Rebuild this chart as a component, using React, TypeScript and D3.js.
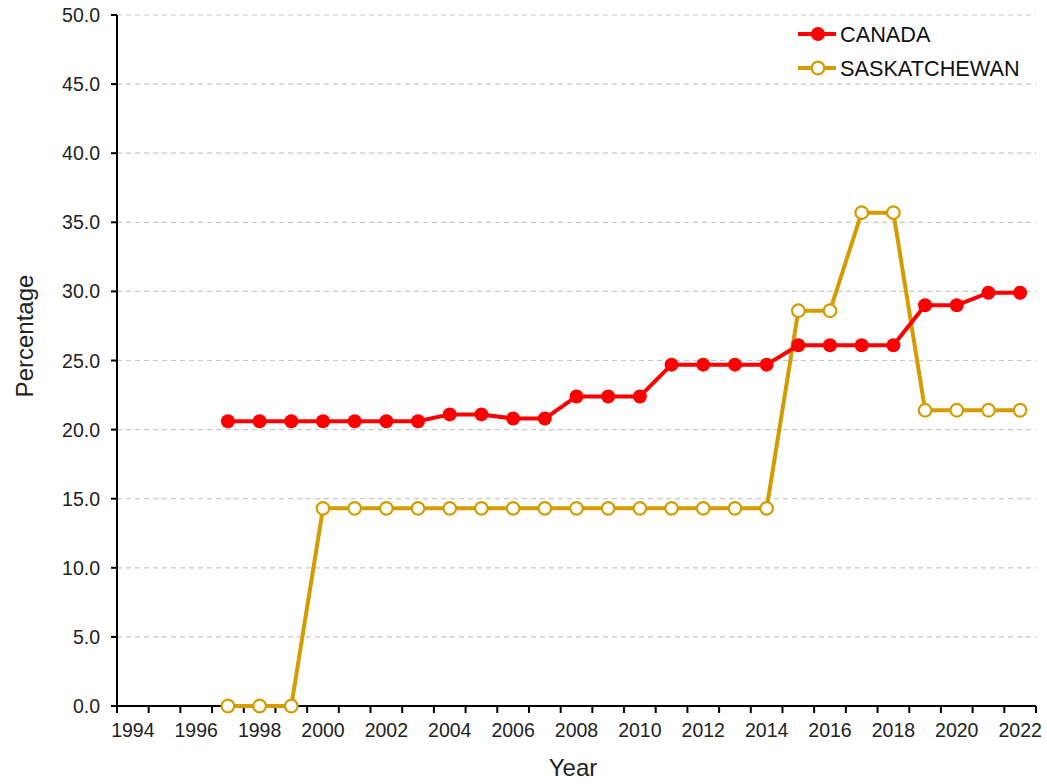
import React from "react";
import * as d3 from "d3";

const years: number[] = d3.range(1994, 2023);
const canadaYears: number[] = [1997,1998,1999,2000,2001,2002,2003,2004,2005,2006,2007,2008,2009,2010,2011,2012,2013,2014,2015,2016,2017,2018,2019,2020,2021,2022];
const canadaValues: number[] = [20.6,20.6,20.6,20.6,20.6,20.6,20.6,21.1,21.1,20.8,20.8,22.4,22.4,22.4,24.7,24.7,24.7,24.7,26.1,26.1,26.1,26.1,29.0,29.0,29.9,29.9];
const saskValues: number[] = [0,0,0,14.3,14.3,14.3,14.3,14.3,14.3,14.3,14.3,14.3,14.3,14.3,14.3,14.3,14.3,14.3,28.6,28.6,35.7,35.7,21.4,21.4,21.4,21.4];
const yTicks: number[] = [0,5,10,15,20,25,30,35,40,45,50];
const seriesNames: string[] = ["CANADA", "SASKATCHEWAN"];

const W = 1047, H = 784;
const left = 117, right = 1036, top = 15, bottom = 706;
const RED = "#FF0000";
const GOLD = "#D49C00";
const FONT = "Liberation Sans, Arial, sans-serif";

export default function App() {
  const x = d3.scaleBand<number>().domain(years).range([left, right]).padding(0);
  const y = d3.scaleLinear().domain([0, 50]).range([bottom, top]);
  const cx = (yr: number) => (x(yr) as number) + x.bandwidth() / 2;

  const canada = canadaYears.map((yr, i) => ({ yr, v: canadaValues[i] }));
  const sask = canadaYears.map((yr, i) => ({ yr, v: saskValues[i] }));
  const line = d3.line<{ yr: number; v: number }>().x(d => cx(d.yr)).y(d => y(d.v));

  const boundaries = years.map(yr => x(yr) as number).concat([right]);

  return (
    <svg width={W} height={H} style={{ position: "absolute", left: 0, top: 0, background: "#fff" }} fontFamily={FONT}>
      {/* gridlines */}
      {yTicks.filter(t => t > 0).map(t => (
        <line key={"g" + t} x1={left} x2={right} y1={y(t)} y2={y(t)} stroke="#c8c8c8" strokeWidth={1.2} strokeDasharray="5,4" />
      ))}
      {/* y axis */}
      <line x1={left} x2={left} y1={top} y2={bottom} stroke="#000" strokeWidth={2} />
      {yTicks.map(t => (
        <g key={"y" + t}>
          <line x1={left - 6} x2={left} y1={y(t)} y2={y(t)} stroke="#000" strokeWidth={2} />
          <text x={100} y={y(t)} dy="0.36em" textAnchor="end" fontSize={19.5} fill="#222">{t.toFixed(1)}</text>
        </g>
      ))}
      {/* x axis */}
      <line x1={left} x2={right} y1={bottom} y2={bottom} stroke="#000" strokeWidth={2} />
      {boundaries.map((bx, i) => (
        <line key={"xt" + i} x1={bx} x2={bx} y1={bottom} y2={bottom + 7} stroke="#000" strokeWidth={2} />
      ))}
      {years.filter(yr => yr % 2 === 0).map(yr => (
        <text key={"xl" + yr} x={cx(yr)} y={737} textAnchor="middle" fontSize={19.5} fill="#222">{yr}</text>
      ))}
      {/* axis titles */}
      <text x={573} y={776} textAnchor="middle" fontSize={24} fill="#222">Year</text>
      <text transform={`translate(33,336) rotate(-90)`} textAnchor="middle" fontSize={24} fill="#222">Percentage</text>

      {/* series */}
      <path d={line(sask) as string} fill="none" stroke={GOLD} strokeWidth={4} strokeLinejoin="round" />
      <path d={line(canada) as string} fill="none" stroke={RED} strokeWidth={4} strokeLinejoin="round" />
      {sask.map(d => (
        <circle key={"s" + d.yr} cx={cx(d.yr)} cy={y(d.v)} r={6.3} fill="#fff" stroke={GOLD} strokeWidth={2.2} />
      ))}
      {canada.map(d => (
        <circle key={"c" + d.yr} cx={cx(d.yr)} cy={y(d.v)} r={7} fill={RED} />
      ))}

      {/* legend */}
      <g>
        <line x1={798} x2={836} y1={34} y2={34} stroke={RED} strokeWidth={4} />
        <circle cx={818} cy={34} r={7} fill={RED} />
        <text x={840} y={42} fontSize={21.7} fill="#111">{seriesNames[0]}</text>
        <line x1={798} x2={836} y1={68} y2={68} stroke={GOLD} strokeWidth={4} />
        <circle cx={818} cy={68} r={6.3} fill="#fff" stroke={GOLD} strokeWidth={2.2} />
        <text x={840} y={76} fontSize={21.7} fill="#111">{seriesNames[1]}</text>
      </g>
    </svg>
  );
}
